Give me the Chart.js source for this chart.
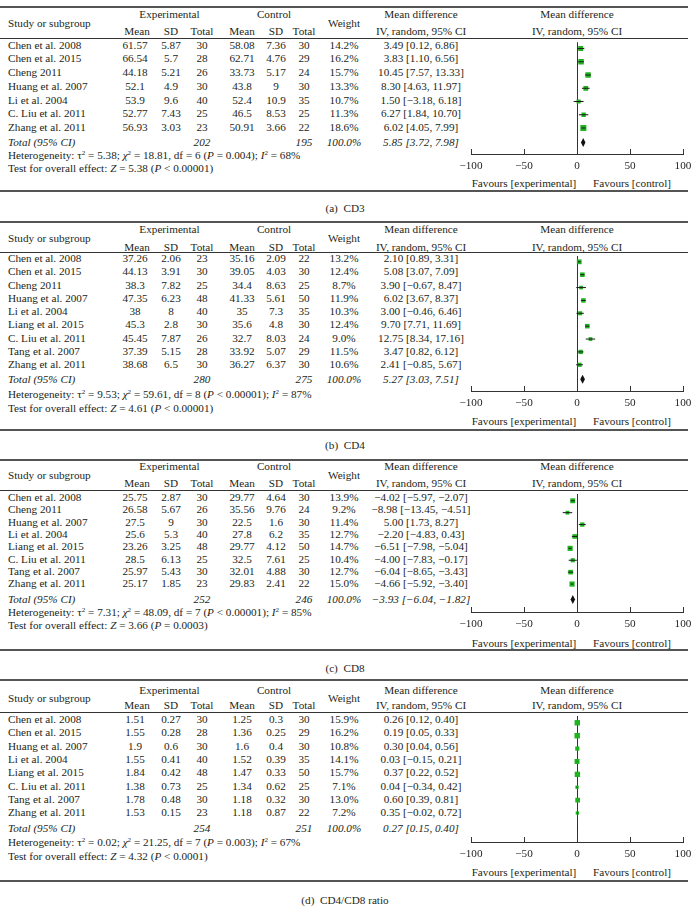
<!DOCTYPE html>
<html>
<head>
<meta charset="utf-8">
<script src="https://cdn.jsdelivr.net/npm/chart.js@4.4.1/dist/chart.umd.min.js"></script>
<style>
  body { margin: 0; background: #fff; }
  #page { position: relative; width: 697px; height: 918px; overflow: hidden;
          font-family: 'Liberation Serif', 'DejaVu Serif', serif; font-size: 11.2px; color: #231f20; }
  .t { position: absolute; line-height: 14px; white-space: nowrap; }
  .t sup { font-size: 7px; line-height: 0; vertical-align: 4px; }
  .rule { position: absolute; left: 0; width: 688px; }
  canvas { position: absolute; }
</style>
</head>
<body>
<div id="page"></div>
<script>
// ---- data ----
const xTicks = [-100, -50, 0, 50, 100];

// (a) CD3
const cd3Studies = ['Chen et al. 2008', 'Chen et al. 2015', 'Cheng 2011', 'Huang et al. 2007', 'Li et al. 2004', 'C. Liu et al. 2011', 'Zhang et al. 2011'];
const cd3ExpMean = [61.57, 66.54, 44.18, 52.1, 53.9, 52.77, 56.93];
const cd3ExpSD = [5.87, 5.7, 5.21, 4.9, 9.6, 7.43, 3.03];
const cd3ExpN = [30, 28, 26, 30, 40, 25, 23];
const cd3CtlMean = [58.08, 62.71, 33.73, 43.8, 52.4, 46.5, 50.91];
const cd3CtlSD = [7.36, 4.76, 5.17, 9, 10.9, 8.53, 3.66];
const cd3CtlN = [30, 29, 24, 30, 35, 25, 22];
const cd3Weight = [14.2, 16.2, 15.7, 13.3, 10.7, 11.3, 18.6];
const cd3MD = [3.49, 3.83, 10.45, 8.30, 1.50, 6.27, 6.02];
const cd3Lo = [0.12, 1.10, 7.57, 4.63, -3.18, 1.84, 4.05];
const cd3Hi = [6.86, 6.56, 13.33, 11.97, 6.18, 10.70, 7.99];
const cd3Total = { expN: 202, ctlN: 195, md: 5.85, lo: 3.72, hi: 7.98 };
const cd3Stats = { tau2: '5.38', chi2: '18.81', df: 6, p: '= 0.004', i2: 68, z: '5.38', pz: '&lt; 0.00001' };

// (b) CD4
const cd4Studies = ['Chen et al. 2008', 'Chen et al. 2015', 'Cheng 2011', 'Huang et al. 2007', 'Li et al. 2004', 'Liang et al. 2015', 'C. Liu et al. 2011', 'Tang et al. 2007', 'Zhang et al. 2011'];
const cd4ExpMean = [37.26, 44.13, 38.3, 47.35, 38, 45.3, 45.45, 37.39, 38.68];
const cd4ExpSD = [2.06, 3.91, 7.82, 6.23, 8, 2.8, 7.87, 5.15, 6.5];
const cd4ExpN = [23, 30, 25, 48, 40, 30, 26, 28, 30];
const cd4CtlMean = [35.16, 39.05, 34.4, 41.33, 35, 35.6, 32.7, 33.92, 36.27];
const cd4CtlSD = [2.09, 4.03, 8.63, 5.61, 7.3, 4.8, 8.03, 5.07, 6.37];
const cd4CtlN = [22, 30, 25, 50, 35, 30, 24, 29, 30];
const cd4Weight = [13.2, 12.4, 8.7, 11.9, 10.3, 12.4, 9.0, 11.5, 10.6];
const cd4MD = [2.10, 5.08, 3.90, 6.02, 3.00, 9.70, 12.75, 3.47, 2.41];
const cd4Lo = [0.89, 3.07, -0.67, 3.67, -0.46, 7.71, 8.34, 0.82, -0.85];
const cd4Hi = [3.31, 7.09, 8.47, 8.37, 6.46, 11.69, 17.16, 6.12, 5.67];
const cd4Total = { expN: 280, ctlN: 275, md: 5.27, lo: 3.03, hi: 7.51 };
const cd4Stats = { tau2: '9.53', chi2: '59.61', df: 8, p: '&lt; 0.00001', i2: 87, z: '4.61', pz: '&lt; 0.00001' };

// (c) CD8
const cd8Studies = ['Chen et al. 2008', 'Cheng 2011', 'Huang et al. 2007', 'Li et al. 2004', 'Liang et al. 2015', 'C. Liu et al. 2011', 'Tang et al. 2007', 'Zhang et al. 2011'];
const cd8ExpMean = [25.75, 26.58, 27.5, 25.6, 23.26, 28.5, 25.97, 25.17];
const cd8ExpSD = [2.87, 5.67, 9, 5.3, 3.25, 6.13, 5.43, 1.85];
const cd8ExpN = [30, 26, 30, 40, 48, 25, 30, 23];
const cd8CtlMean = [29.77, 35.56, 22.5, 27.8, 29.77, 32.5, 32.01, 29.83];
const cd8CtlSD = [4.64, 9.76, 1.6, 6.2, 4.12, 7.61, 4.88, 2.41];
const cd8CtlN = [30, 24, 30, 35, 50, 25, 30, 22];
const cd8Weight = [13.9, 9.2, 11.4, 12.7, 14.7, 10.4, 12.7, 15.0];
const cd8MD = [-4.02, -8.98, 5.00, -2.20, -6.51, -4.00, -6.04, -4.66];
const cd8Lo = [-5.97, -13.45, 1.73, -4.83, -7.98, -7.83, -8.65, -5.92];
const cd8Hi = [-2.07, -4.51, 8.27, 0.43, -5.04, -0.17, -3.43, -3.40];
const cd8Total = { expN: 252, ctlN: 246, md: -3.93, lo: -6.04, hi: -1.82 };
const cd8Stats = { tau2: '7.31', chi2: '48.09', df: 7, p: '&lt; 0.00001', i2: 85, z: '3.66', pz: '= 0.0003' };

// (d) CD4/CD8 ratio
const ratioStudies = ['Chen et al. 2008', 'Chen et al. 2015', 'Huang et al. 2007', 'Li et al. 2004', 'Liang et al. 2015', 'C. Liu et al. 2011', 'Tang et al. 2007', 'Zhang et al. 2011'];
const ratioExpMean = [1.51, 1.55, 1.9, 1.55, 1.84, 1.38, 1.78, 1.53];
const ratioExpSD = [0.27, 0.28, 0.6, 0.41, 0.42, 0.73, 0.48, 0.15];
const ratioExpN = [30, 28, 30, 40, 48, 25, 30, 23];
const ratioCtlMean = [1.25, 1.36, 1.6, 1.52, 1.47, 1.34, 1.18, 1.18];
const ratioCtlSD = [0.3, 0.25, 0.4, 0.39, 0.33, 0.62, 0.32, 0.87];
const ratioCtlN = [30, 29, 30, 35, 50, 25, 30, 22];
const ratioWeight = [15.9, 16.2, 10.8, 14.1, 15.7, 7.1, 13.0, 7.2];
const ratioMD = [0.26, 0.19, 0.30, 0.03, 0.37, 0.04, 0.60, 0.35];
const ratioLo = [0.12, 0.05, 0.04, -0.15, 0.22, -0.34, 0.39, -0.02];
const ratioHi = [0.40, 0.33, 0.56, 0.21, 0.52, 0.42, 0.81, 0.72];
const ratioTotal = { expN: 254, ctlN: 251, md: 0.27, lo: 0.15, hi: 0.40 };
const ratioStats = { tau2: '0.02', chi2: '21.25', df: 7, p: '= 0.003', i2: 67, z: '4.32', pz: '&lt; 0.0001' };

// ---- layout (page pixels) ----
const col = { study: 8, eMean: 135, eSD: 171, eN: 202, cMean: 242, cSD: 276, cN: 304, weight: 344, ci: 421, plot: 577 };
const plotLeft = 471, plotRight = 683;

const panels = [
  { cap: '(a)&nbsp; CD3', studies: cd3Studies, eM: cd3ExpMean, eS: cd3ExpSD, eN: cd3ExpN, cM: cd3CtlMean, cS: cd3CtlSD, cN: cd3CtlN,
    w: cd3Weight, md: cd3MD, lo: cd3Lo, hi: cd3Hi, tot: cd3Total, st: cd3Stats,
    top: 7, h1: 14, h2: 31, hline: 38, row0: 44.5, step: 13.75, total: 142, het: 155, test: 168, axis: 154, fav: 183, bottom: 191, capY: 208 },
  { cap: '(b)&nbsp; CD4', studies: cd4Studies, eM: cd4ExpMean, eS: cd4ExpSD, eN: cd4ExpN, cM: cd4CtlMean, cS: cd4CtlSD, cN: cd4CtlN,
    w: cd4Weight, md: cd4MD, lo: cd4Lo, hi: cd4Hi, tot: cd4Total, st: cd4Stats,
    top: 222, h1: 229, h2: 247, hline: 252, row0: 258, step: 13.25, total: 379, het: 394, test: 408, axis: 391, fav: 421, bottom: 430, capY: 445 },
  { cap: '(c)&nbsp; CD8', studies: cd8Studies, eM: cd8ExpMean, eS: cd8ExpSD, eN: cd8ExpN, cM: cd8CtlMean, cS: cd8CtlSD, cN: cd8CtlN,
    w: cd8Weight, md: cd8MD, lo: cd8Lo, hi: cd8Hi, tot: cd8Total, st: cd8Stats,
    top: 460, h1: 466, h2: 483, hline: 490, row0: 497, step: 12.3, total: 599, het: 612, test: 625, axis: 612, fav: 643, bottom: 650, capY: 668 },
  { cap: '(d)&nbsp; CD4/CD8 ratio', studies: ratioStudies, eM: ratioExpMean, eS: ratioExpSD, eN: ratioExpN, cM: ratioCtlMean, cS: ratioCtlSD, cN: ratioCtlN,
    w: ratioWeight, md: ratioMD, lo: ratioLo, hi: ratioHi, tot: ratioTotal, st: ratioStats,
    top: 680, h1: 690, h2: 705, hline: 712, row0: 719, step: 13.3, total: 828, het: 842, test: 856, axis: 842, fav: 872, bottom: 881, capY: 900 }
];

const page = document.getElementById('page');

function put(html, x, y, align, style) {
  const d = document.createElement('div');
  d.className = 't';
  d.innerHTML = html;
  d.style.left = x + 'px';
  d.style.top = (y - 7) + 'px';
  if (align === 'c') d.style.transform = 'translateX(-50%)';
  if (align === 'r') d.style.transform = 'translateX(-100%)';
  if (style) d.style.cssText += style;
  page.appendChild(d);
}

function rule(y, thick, color) {
  const d = document.createElement('div');
  d.className = 'rule';
  d.style.top = (y - thick / 2) + 'px';
  d.style.height = thick + 'px';
  d.style.background = color;
  page.appendChild(d);
}

function num(v, dec) {
  const s = dec == null ? String(Math.abs(v)) : Math.abs(v).toFixed(dec);
  return (v < 0 ? '\u2212' : '') + s;
}
function ciText(m, l, h) {
  return num(m, 2) + ' [' + num(l, 2) + ', ' + num(h, 2) + ']';
}

// draws the summary diamond and ticks pointing up from the axis
const forestPlugin = {
  id: 'forest',
  afterDatasetsDraw(chart) {
    const o = chart.options.plugins.forest;
    const xs = chart.scales.x, ys = chart.scales.y, ctx = chart.ctx;
    const yc = ys.getPixelForValue(o.y);
    const xl = xs.getPixelForValue(o.lo), xm = xs.getPixelForValue(o.md), xh = xs.getPixelForValue(o.hi);
    ctx.save();
    ctx.fillStyle = '#111';
    ctx.beginPath();
    ctx.moveTo(xl, yc);
    ctx.lineTo(xm, yc - 4.5);
    ctx.lineTo(xh, yc);
    ctx.lineTo(xm, yc + 4.5);
    ctx.closePath();
    ctx.fill();
    ctx.restore();
  },
  afterDraw(chart) {
    const xs = chart.scales.x, ctx = chart.ctx, yb = chart.chartArea.bottom;
    ctx.save();
    ctx.strokeStyle = '#333';
    ctx.lineWidth = 1;
    ctx.beginPath();
    xs.ticks.forEach(t => {
      const px = Math.round(xs.getPixelForValue(t.value)) + 0.5;
      ctx.moveTo(px, yb);
      ctx.lineTo(px, yb - 5);
    });
    ctx.stroke();
    ctx.restore();
  }
};

panels.forEach(p => {
  // rules
  rule(p.top, 1.5, '#555');
  rule(p.hline, 1, '#333');
  rule(p.bottom, 1.5, '#555');

  // header
  const hm = (p.h1 + p.h2) / 2;
  put('Study or subgroup', col.study, hm);
  put('Experimental', (col.eMean + col.eN) / 2 + 1, p.h1, 'c');
  put('Control', (col.cMean + col.cN) / 2 + 1, p.h1, 'c');
  put('Mean', col.eMean + 2, p.h2, 'c');
  put('SD', col.eSD, p.h2, 'c');
  put('Total', col.eN, p.h2, 'c');
  put('Mean', col.cMean, p.h2, 'c');
  put('SD', col.cSD, p.h2, 'c');
  put('Total', col.cN, p.h2, 'c');
  put('Weight', col.weight, hm, 'c');
  put('Mean difference', col.ci, p.h1, 'c');
  put('IV, random, 95% CI', col.ci, p.h2, 'c');
  put('Mean difference', col.plot, p.h1, 'c');
  put('IV, random, 95% CI', col.plot, p.h2, 'c');

  // study rows
  p.studies.forEach((s, i) => {
    const y = p.row0 + i * p.step;
    put(s, col.study, y);
    put(num(p.eM[i]), col.eMean, y, 'c');
    put(num(p.eS[i]), col.eSD, y, 'c');
    put(String(p.eN[i]), col.eN, y, 'c');
    put(num(p.cM[i]), col.cMean, y, 'c');
    put(num(p.cS[i]), col.cSD, y, 'c');
    put(String(p.cN[i]), col.cN, y, 'c');
    put(p.w[i].toFixed(1) + '%', col.weight, y, 'c');
    put(ciText(p.md[i], p.lo[i], p.hi[i]), col.ci, y, 'c');
  });

  // total + stats
  const it = 'font-style:italic;';
  put('Total (95% CI)', col.study, p.total, null, it);
  put(String(p.tot.expN), col.eN, p.total, 'c', it);
  put(String(p.tot.ctlN), col.cN, p.total, 'c', it);
  put('100.0%', col.weight, p.total, 'c', it);
  put(ciText(p.tot.md, p.tot.lo, p.tot.hi), col.ci, p.total, 'c', it);
  const st = p.st;
  put('Heterogeneity: \u03c4<sup>2</sup> = ' + st.tau2 + '; <i>\u03c7</i><sup>2</sup> = ' + st.chi2 + ', df = ' + st.df +
      ' (<i>P</i> ' + st.p + '); <i>I</i><sup>2</sup> = ' + st.i2 + '%', col.study, p.het);
  put('Test for overall effect: <i>Z</i> = ' + st.z + ' (<i>P</i> ' + st.pz + ')', col.study, p.test);

  put('Favours [experimental]', 524, p.fav, 'c');
  put('Favours [control]', 632, p.fav, 'c');
  put(p.cap, 345, p.capY, 'c');

  // forest plot canvas: chart area spans header rule -> axis line
  const cvLeft = 440, cvW = 257, axisH = 20;
  const cvH = Math.round(p.axis - p.hline) + axisH;
  const cv = document.createElement('canvas');
  cv.width = cvW; cv.height = cvH;
  cv.style.left = cvLeft + 'px';
  cv.style.top = p.hline + 'px';
  cv.style.width = cvW + 'px';
  cv.style.height = cvH + 'px';
  page.appendChild(cv);

  const yMin = -(p.row0 - p.hline) / p.step;
  const yMax = (p.axis - p.row0) / p.step;
  const yTot = (p.total - p.row0) / p.step;

  const datasets = [];
  p.studies.forEach((s, i) => {
    datasets.push({
      data: [{ x: p.lo[i], y: i }, { x: p.hi[i], y: i }],
      showLine: true, borderColor: '#1a1a1a', borderWidth: 1, pointRadius: 0, order: 1
    });
  });
  datasets.push({
    data: p.md.map((m, i) => ({ x: m, y: i })),
    pointStyle: 'rect',
    pointRadius: p.w.map(w => (1.6 + w * 0.24) / Math.SQRT2),
    backgroundColor: '#1fb41f', borderWidth: 0, order: 2
  });

  new Chart(cv, {
    type: 'scatter',
    data: { datasets: datasets },
    plugins: [forestPlugin],
    options: {
      responsive: false,
      animation: false,
      events: [],
      layout: { padding: { left: plotLeft - cvLeft, right: cvLeft + cvW - plotRight, top: 0, bottom: 0 } },
      plugins: {
        legend: { display: false },
        tooltip: { enabled: false },
        forest: { md: p.tot.md, lo: p.tot.lo, hi: p.tot.hi, y: yTot }
      },
      scales: {
        x: {
          type: 'linear', min: -100, max: 100,
          afterBuildTicks: sc => { sc.ticks = xTicks.map(v => ({ value: v })); },
          afterFit: sc => { sc.height = axisH; },
          border: { display: true, color: '#333', width: 1 },
          grid: {
            drawTicks: false,
            color: c => (c.tick && c.tick.value === 0 ? '#333' : 'rgba(0,0,0,0)')
          },
          ticks: {
            padding: 5, maxRotation: 0, autoSkip: false,
            color: '#231f20',
            font: { family: 'Liberation Serif', size: 11.2 },
            callback: v => num(v)
          }
        },
        y: { type: 'linear', display: false, reverse: true, min: yMin, max: yMax }
      }
    }
  });
});
</script>
</body>
</html>
